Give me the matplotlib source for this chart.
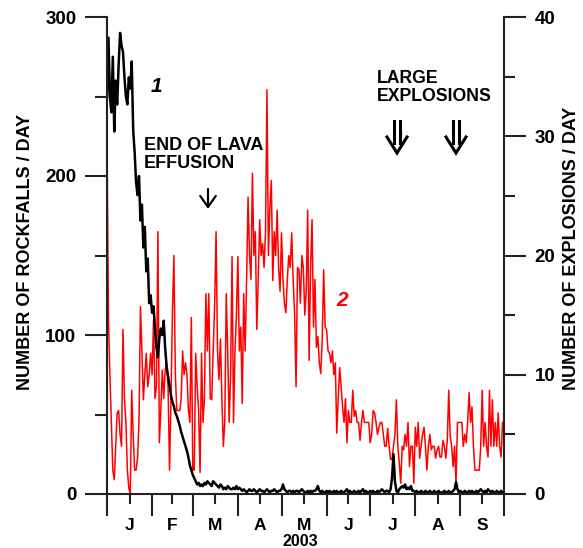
import numpy as np
import matplotlib
matplotlib.use('Agg')
import matplotlib.pyplot as plt
from matplotlib.lines import Line2D
from matplotlib.ticker import FixedLocator, NullFormatter, FixedFormatter

plt.rcParams['font.family'] = ['Liberation Sans', 'DejaVu Sans']
plt.rcParams['font.weight'] = 'bold'

# ---- data (day 0 = 1 Jan 2003) ----
month_starts = [0, 31, 59, 90, 120, 151, 181, 212, 243, 273]
month_labels = ['J', 'F', 'M', 'A', 'M', 'J', 'J', 'A', 'S']
year_label = '2003'

rockfalls = [
    250, 287, 250, 240, 275, 228, 260, 245, 270, 290, 282, 278, 262, 250, 245, 262, 255, 272, 229, 215,
    196, 188, 200, 172, 182, 155, 168, 140, 148, 120, 125, 114, 118, 104, 92, 86, 98, 104, 100, 109,
    92, 80, 74, 68, 62, 58, 55, 51, 49, 46, 43, 39, 36, 33, 30, 27, 23, 18, 15, 12,
    10, 8, 6, 7, 5, 6, 5, 7, 6, 8, 7, 6, 5, 8, 7, 6, 5, 4, 6, 5,
    3, 4, 3, 5, 4, 3, 3, 4, 3, 5, 3, 4, 3, 2, 3, 2, 1, 2, 3, 2,
    2, 3, 2, 1, 2, 3, 2, 2, 1, 2, 3, 2, 1, 2, 2, 3, 2, 1, 2, 2,
    3, 6, 3, 2, 1, 2, 2, 1, 2, 1, 2, 2, 1, 2, 3, 2, 1, 1, 2, 1,
    2, 1, 2, 2, 3, 5, 2, 1, 2, 1, 1, 2, 1, 2, 1, 1, 2, 1, 2, 1,
    1, 2, 1, 1, 2, 3, 1, 2, 1, 1, 2, 1, 1, 2, 1, 2, 3, 1, 2, 1,
    1, 2, 1, 2, 1, 1, 2, 1, 2, 3, 2, 1, 2, 2, 1, 3, 10, 25, 8, 2,
    1, 3, 4, 5, 4, 6, 3, 4, 3, 5, 2, 2, 1, 2, 1, 1, 2, 1, 1, 2,
    1, 1, 2, 1, 1, 2, 1, 1, 2, 1, 1, 1, 2, 1, 1, 2, 1, 1, 2, 3,
    7.5, 3, 1, 2, 1, 1, 2, 1, 1, 2, 1, 2, 1, 1, 2, 1, 2, 3, 2, 1,
    2, 1, 3, 2, 1, 2, 1, 1, 2, 1, 1, 2, 1,
]

explosions = [
    30, 14.6, 10, 6, 2, 1.2, 4, 6.8, 7, 5,
    4, 13.8, 8, 6, 2, 0.5, 0, 8.7, 5, 2,
    2, 3, 6, 15.7, 12, 7.9, 10, 11.8, 9, 10,
    11.8, 10, 14.6, 8, 9, 22, 4.3, 7, 10.4, 8,
    10.4, 11, 9, 2, 8, 15.2, 20, 10, 7, 7,
    7, 8, 12, 10, 11, 10, 7, 6, 14.8, 2,
    2, 11.8, 9, 7, 1.8, 11.8, 6, 8, 16.8, 12,
    16.8, 8, 7.9, 12, 15.7, 22, 12, 9.6, 13, 8,
    4, 6, 16.8, 12, 6, 10, 19.9, 6, 12, 15,
    19.9, 12, 14, 7.6, 16.8, 12, 18, 24.9, 20, 18,
    26.9, 20, 22, 13.8, 18, 23, 20, 21, 19, 22,
    33.9, 20, 24, 26.3, 17.9, 22, 20, 23.8, 19, 17,
    21.9, 18, 16, 15.2, 18, 20, 19, 21.9, 18, 15.2,
    9, 19, 18.8, 16, 20, 19, 15, 17, 23.8, 11.2,
    19, 23, 14, 18, 12.3, 13.2, 11, 10.1, 13, 18.8,
    14, 13.8, 12, 11.8, 11, 12, 10, 11, 5.1, 8,
    10.6, 9, 7.3, 6, 8, 4.3, 7, 6, 6, 8.7,
    6.5, 7, 6, 6, 4.5, 6, 7, 6, 6, 6,
    6, 4.3, 5, 7, 6.8, 6, 5, 5.6, 6, 6,
    5, 4, 4, 5.5, 4, 2.9, 2.9, 4, 5, 7.9,
    4, 2.6, 0.9, 4, 3.7, 5, 4, 6, 2.3, 4,
    4, 0.9, 5.6, 4, 6, 3, 4, 5, 5.6, 4,
    2, 4, 5, 3.7, 4, 4, 3, 3.7, 4, 3.1,
    3.1, 4.5, 4, 3, 4.5, 8.7, 4.8, 4, 2.3, 4,
    0.9, 6, 6, 6, 6, 4, 5, 4.3, 6, 8.5,
    6, 7.3, 4, 2, 2, 2, 2, 4, 8.7, 4,
    6, 4, 3.1, 8.7, 4, 7.9, 4, 6, 4, 6.8,
    4, 3.1, 6,
]

left_ticks = [0, 100, 200, 300]
left_minor = [50, 150, 250]
right_ticks = [0, 10, 20, 30, 40]
right_minor = [5, 15, 25, 35]

# ---- figure ----
W, H = 583, 548
AX_L, AX_R, AX_T, AX_B = 107, 504, 17, 494
fig = plt.figure(figsize=(W / 100, H / 100), dpi=100)
ax = fig.add_axes([AX_L / W, 1 - AX_B / H, (AX_R - AX_L) / W, (AX_B - AX_T) / H])
ax2 = ax.twinx()
ax.set_zorder(ax2.get_zorder() + 1)
ax.patch.set_visible(False)


def afrac(px, py):
    """pixel position in the figure -> axes fraction (for annotations only)"""
    return (px - AX_L) / (AX_R - AX_L), (AX_B - py) / (AX_B - AX_T)


days_r = np.arange(len(rockfalls))
days_e = np.arange(len(explosions))
ax2.plot(days_e, explosions, color='#ff0000', lw=1.1)
ax.plot(days_r, rockfalls, color='black', lw=1.8)

ax.set_xlim(month_starts[0], month_starts[-1])
ax.set_ylim(0, 300)
ax2.set_ylim(0, 40)

spine_col = '#222222'
for a in (ax, ax2):
    a.spines['top'].set_visible(False)
    for s in a.spines.values():
        s.set_linewidth(1.5)
        s.set_color(spine_col)
ax.spines['right'].set_visible(False)
ax2.spines['left'].set_visible(False)
ax2.spines['bottom'].set_visible(False)

mids = [(a + b) / 2 for a, b in zip(month_starts[:-1], month_starts[1:])]
ax.xaxis.set_major_locator(FixedLocator(month_starts))
ax.xaxis.set_major_formatter(NullFormatter())
ax.xaxis.set_minor_locator(FixedLocator(mids))
ax.xaxis.set_minor_formatter(FixedFormatter(month_labels))
ax.tick_params(axis='x', which='major', length=16, width=1.5, color=spine_col, direction='out')
ax.tick_params(axis='x', which='minor', length=7, width=1.5, color=spine_col, pad=10, labelsize=12.5)

ax.yaxis.set_major_locator(FixedLocator(left_ticks))
ax.yaxis.set_minor_locator(FixedLocator(left_minor))
ax.tick_params(axis='y', which='major', length=16, width=1.5, color=spine_col, pad=6, labelsize=13.5)
ax.tick_params(axis='y', which='minor', length=9, width=1.5, color=spine_col)

ax2.yaxis.set_major_locator(FixedLocator(right_ticks))
ax2.yaxis.set_minor_locator(FixedLocator(right_minor))
ax2.tick_params(axis='y', which='major', length=16, width=1.5, color=spine_col, pad=6, labelsize=13.5)
ax2.tick_params(axis='y', which='minor', length=8, width=1.5, color=spine_col)

for lab in ax.get_yticklabels() + ax2.get_yticklabels() + ax.get_xticklabels(minor=True):
    lab.set_fontweight('bold')

fig.text(26 / W, 1 - 252 / H, 'NUMBER OF ROCKFALLS / DAY', rotation=90, ha='center', va='center',
         fontsize=13, fontweight='bold')
fig.text(572 / W, 1 - 248 / H, 'NUMBER OF EXPLOSIONS / DAY', rotation=90, ha='center', va='center',
         fontsize=13, fontweight='bold')
fig.text(300 / W, 1 - 541 / H, year_label, ha='center', va='center', fontsize=11.5, fontweight='bold')

ax.text(*afrac(156, 87), '1', transform=ax.transAxes, ha='center', va='center', fontsize=15,
        fontweight='bold', style='italic', color='black')
ax.text(*afrac(342, 300), '2', transform=ax.transAxes, ha='center', va='center', fontsize=15,
        fontweight='bold', style='italic', color='#ff0000')
ax.text(*afrac(144, 137), 'END OF LAVA\nEFFUSION', transform=ax.transAxes, ha='left', va='top',
        fontsize=13, fontweight='bold', linespacing=1.05)
ax.annotate('', xy=afrac(208, 209), xytext=afrac(208, 189), xycoords='axes fraction',
            arrowprops=dict(arrowstyle='->,head_length=0.5,head_width=0.35', lw=1.6,
                            color='black', mutation_scale=16, shrinkA=0, shrinkB=0))
ax.text(*afrac(377, 70), 'LARGE\nEXPLOSIONS', transform=ax.transAxes, ha='left', va='top',
        fontsize=12.7, fontweight='bold', linespacing=1.05)


def double_arrow(cx):
    segs = [
        [(cx - 2.6, 121), (cx - 2.6, 143)],
        [(cx + 2.6, 121), (cx + 2.6, 143)],
        [(cx - 10, 137), (cx, 153), (cx + 10, 137)],
    ]
    for seg in segs:
        pts = [afrac(px, py) for px, py in seg]
        ax.add_line(Line2D([p[0] for p in pts], [p[1] for p in pts], transform=ax.transAxes,
                           color='black', lw=2.2, solid_joinstyle='miter', clip_on=False))


double_arrow(397)
double_arrow(456)

fig.savefig('out.png', dpi=100)
